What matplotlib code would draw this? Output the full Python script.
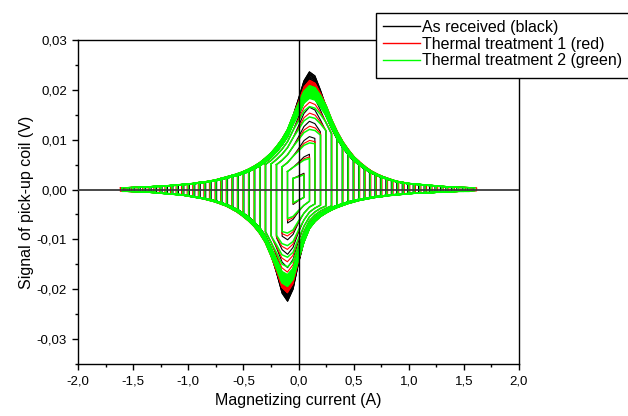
import numpy as np
import matplotlib
matplotlib.use("Agg")
import matplotlib.pyplot as plt
from matplotlib.ticker import MultipleLocator, FuncFormatter
from matplotlib.lines import Line2D
from matplotlib.patches import Rectangle

plt.rcParams['font.family'] = ['Liberation Sans', 'DejaVu Sans']

# current grid (A)
current = np.array([
    -1.60, -1.55, -1.50, -1.45, -1.40, -1.35, -1.30, -1.25, -1.20, -1.15, -1.10, -1.05,
    -1.00, -0.95, -0.90, -0.85, -0.80, -0.75, -0.70, -0.65, -0.60, -0.55, -0.50, -0.45,
    -0.40, -0.35, -0.30, -0.25, -0.20, -0.15, -0.10, -0.05, 0.00, 0.05, 0.10, 0.15,
    0.20, 0.25, 0.30, 0.35, 0.40, 0.45, 0.50, 0.55, 0.60, 0.65, 0.70, 0.75,
    0.80, 0.85, 0.90, 0.95, 1.00, 1.05, 1.10, 1.15, 1.20, 1.25, 1.30, 1.35,
    1.40, 1.45, 1.50, 1.55, 1.60])

# rising branch (outer loop, common flanks), V
signal_rising = np.array([
    0.0004, 0.0004, 0.0005, 0.0005, 0.0006, 0.0006, 0.0007, 0.0007, 0.0008, 0.0009, 0.0010, 0.0011,
    0.0012, 0.0013, 0.0015, 0.0016, 0.0018, 0.0020, 0.0023, 0.0026, 0.0029, 0.0032, 0.0036, 0.0041,
    0.0047, 0.0054, 0.0063, 0.0073, 0.0086, 0.0101, 0.0120, 0.0148, 0.0182, 0.0218, 0.0236, 0.0228,
    0.0200, 0.0168, 0.0140, 0.0116, 0.0096, 0.0080, 0.0066, 0.0056, 0.0047, 0.0039, 0.0033, 0.0028,
    0.0024, 0.0020, 0.0017, 0.0015, 0.0013, 0.0012, 0.0011, 0.0010, 0.0009, 0.0008, 0.0007, 0.0006,
    0.0006, 0.0005, 0.0005, 0.0004, 0.0004])

# falling branch (outer loop, common flanks), V
signal_falling = np.array([
    -0.0004, -0.0004, -0.0005, -0.0005, -0.0006, -0.0006, -0.0007, -0.0008, -0.0009, -0.0010, -0.0011, -0.0012,
    -0.0014, -0.0016, -0.0018, -0.0020, -0.0023, -0.0026, -0.0030, -0.0034, -0.0040, -0.0046, -0.0054, -0.0063,
    -0.0074, -0.0088, -0.0106, -0.0132, -0.0168, -0.0208, -0.0224, -0.0200, -0.0148, -0.0105, -0.0078, -0.0064,
    -0.0054, -0.0047, -0.0041, -0.0036, -0.0032, -0.0028, -0.0025, -0.0022, -0.0020, -0.0018, -0.0016, -0.0015,
    -0.0013, -0.0012, -0.0011, -0.0010, -0.0009, -0.0008, -0.0008, -0.0007, -0.0007, -0.0006, -0.0006, -0.0005,
    -0.0005, -0.0004, -0.0004, -0.0004, -0.0003])

# peak values for each sample
rise_peak_current = [0.00, 0.05, 0.10, 0.15, 0.20]
rise_peak = {
    "black": [0.0182, 0.0218, 0.0236, 0.0228, 0.0200],
    "red":   [0.0176, 0.0206, 0.0219, 0.0213, 0.0192],
    "green": [0.0172, 0.0197, 0.0208, 0.0204, 0.0188],
}
fall_peak_current = [-0.20, -0.15, -0.10, -0.05, 0.00]
fall_peak = {
    "black": [-0.0168, -0.0208, -0.0224, -0.0200, -0.0148],
    "red":   [-0.0162, -0.0196, -0.0207, -0.0189, -0.0143],
    "green": [-0.0158, -0.0187, -0.0194, -0.0180, -0.0140],
}

# loop amplitudes (A) and relative loop heights
loop_amplitudes = [0.05, 0.10, 0.15, 0.20, 0.25, 0.30, 0.35, 0.40, 0.45, 0.50, 0.55, 0.60,
                   0.65, 0.70, 0.75, 0.80, 0.85, 0.90, 0.95, 1.00, 1.05, 1.10, 1.15, 1.20,
                   1.25, 1.30, 1.35, 1.40, 1.45, 1.50, 1.55, 1.60]
loop_heights = [0.15, 0.30, 0.45, 0.58, 0.70, 0.80, 0.88, 0.94, 0.98, 1.00, 1.00, 0.99,
                0.98, 0.98, 0.97, 0.96, 0.96, 0.95, 0.94, 0.94, 0.93, 0.93, 0.92, 0.92,
                0.91, 0.91, 0.90, 0.90, 0.90, 0.89, 0.89, 0.89]

samples = ["As received (black)", "Thermal treatment 1 (red)", "Thermal treatment 2 (green)"]
keys = ["black", "red", "green"]
sample_current_scale = [0.99, 1.01, 1.000]
colors = ["#000000", "#ff0000", "#00ff00"]
widths = [0.8, 0.8, 1.1]

fig = plt.figure(figsize=(6.28, 4.16), dpi=100)
ax = fig.add_axes([78/628, 1-364/416, (519-78)/628, (364-40)/416])

for key, cs, col, lw in zip(keys, sample_current_scale, colors, widths):
    rise = signal_rising.copy()
    fall = signal_falling.copy()
    for c, v in zip(rise_peak_current, rise_peak[key]):
        rise[np.isclose(current, c)] = v
    for c, v in zip(fall_peak_current, fall_peak[key]):
        fall[np.isclose(current, c)] = v
    for amp, h in zip(loop_amplitudes, loop_heights):
        m = np.abs(current) <= amp + 1e-9
        xs = current[m] * cs
        up = rise[m] * h
        lo = fall[m] * h
        x_loop = np.concatenate([xs, xs[::-1], xs[:1]])
        y_loop = np.concatenate([up, lo[::-1], up[:1]])
        ax.plot(x_loop, y_loop, color=col, lw=lw, solid_joinstyle='round')

ax.axhline(0, color='#3a3a3a', lw=1.3, zorder=5)
ax.axvline(0, color='#000000', lw=1.0, zorder=5)

ax.set_xlim(-2.0, 2.0)
ax.set_ylim(-0.035, 0.03)
ax.xaxis.set_major_locator(MultipleLocator(0.5))
ax.xaxis.set_minor_locator(MultipleLocator(0.25))
ax.yaxis.set_major_locator(MultipleLocator(0.01))
ax.yaxis.set_minor_locator(MultipleLocator(0.005))

def fmt(d):
    def f(v, pos):
        s = f"{v:.{d}f}"
        if s.startswith('-') and float(s) == 0:
            s = s[1:]
        return s.replace('.', ',')
    return f
ax.xaxis.set_major_formatter(FuncFormatter(fmt(1)))
ax.yaxis.set_major_formatter(FuncFormatter(fmt(2)))
ax.tick_params(which='both', direction='out', top=False, right=False, labelsize=9.5, width=1)
ax.tick_params(which='major', length=4.5)
ax.tick_params(which='minor', length=2.5)
for sp in ax.spines.values():
    sp.set_linewidth(1.0)

ax.set_xlabel("Magnetizing current (A)", fontsize=11.5, labelpad=4)
ax.set_ylabel("Signal of pick-up coil (V)", fontsize=11.5, labelpad=2)

rect = Rectangle((376/628, 1-78/416), 0.5, 65/416, transform=fig.transFigure,
                 facecolor='white', edgecolor='black', lw=1.0, zorder=5, clip_on=False)
fig.patches.append(rect)
handles = [Line2D([], [], color=c, lw=1.0) for c in colors]
leg = fig.legend(handles, samples, loc='upper left', bbox_to_anchor=(383/628, 1-20/416),
                 frameon=False, fontsize=11.5, handlelength=2.3, handletextpad=0.15,
                 borderpad=0, borderaxespad=0, labelspacing=0.1)
leg.set_zorder(6)

fig.savefig("out.png", dpi=100)
